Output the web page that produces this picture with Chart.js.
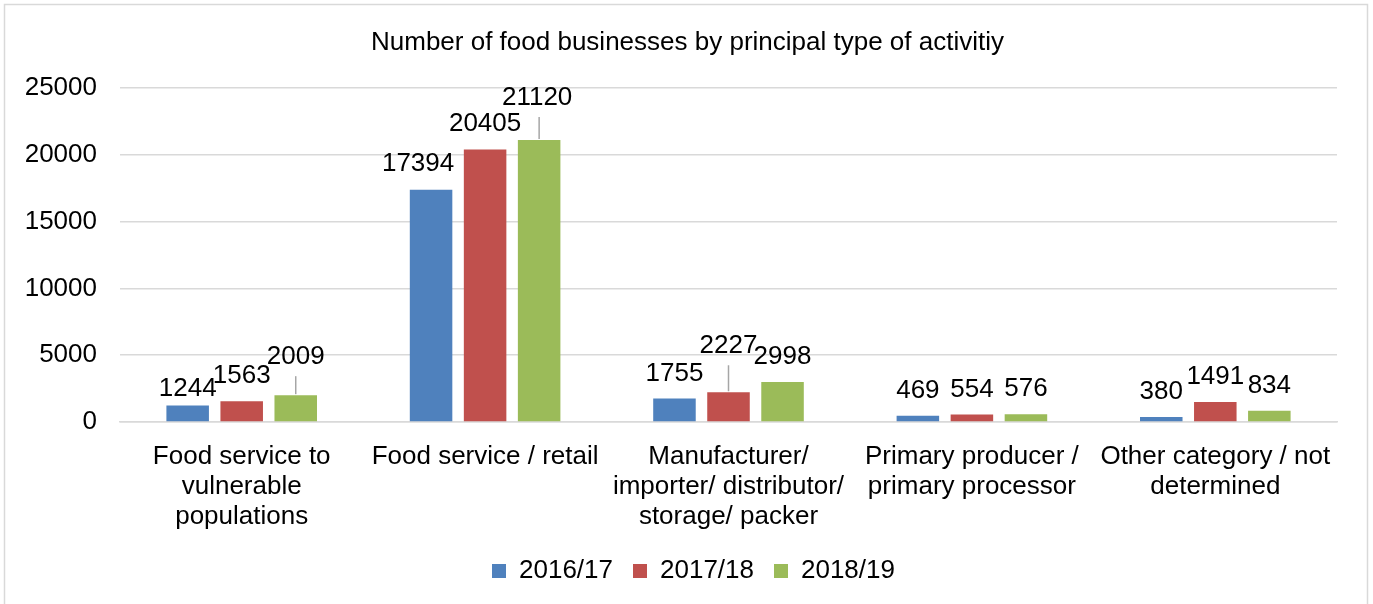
<!DOCTYPE html>
<html>
<head>
<meta charset="utf-8">
<title>Number of food businesses by principal type of activitiy</title>
<script src="https://cdn.jsdelivr.net/npm/chart.js@4/dist/chart.umd.min.js"></script>
<style>
  html, body { margin: 0; padding: 0; background: #fff; }
  canvas { display: block; }
</style>
</head>
<body>
<canvas id="foodChart" width="1373" height="604"></canvas>
<script>
// ---------------- data
const categories = [
  ['Food service to', 'vulnerable', 'populations'],
  'Food service / retail',
  ['Manufacturer/', 'importer/ distributor/', 'storage/ packer'],
  ['Primary producer /', 'primary processor'],
  ['Other category / not', 'determined']
];
const seriesNames = ['2016/17', '2017/18', '2018/19'];
const values2016 = [1244, 17394, 1755, 469, 380];
const values2017 = [1563, 20405, 2227, 554, 1491];
const values2018 = [2009, 21120, 2998, 576, 834];
const yTicks = [0, 5000, 10000, 15000, 20000, 25000];

const FONT = "'Liberation Sans', Arial, sans-serif";

// value labels above the bars, nudged like the original where they would collide
const barLabels = {
  id: 'barLabels',
  afterDatasetsDraw(chart, args, opts) {
    const ctx = chart.ctx;
    ctx.save();
    ctx.font = opts.size + 'px ' + FONT;
    ctx.textAlign = 'center';
    ctx.textBaseline = 'middle';
    chart.data.datasets.forEach((ds, d) => {
      const meta = chart.getDatasetMeta(d);
      meta.data.forEach((bar, i) => {
        const nudge = (opts.nudge[d] && opts.nudge[d][i]) || [0, opts.offset, false];
        const x = bar.x + nudge[0];
        const y = bar.y + nudge[1];
        if (nudge[2]) {
          ctx.strokeStyle = '#a6a6a6';
          ctx.lineWidth = 1.5;
          ctx.beginPath();
          ctx.moveTo(bar.x, y + 19);
          ctx.lineTo(bar.x, bar.y - 1);
          ctx.stroke();
        }
        ctx.fillStyle = '#000';
        ctx.fillText(String(ds.data[i]), x, y);
      });
    });
    ctx.restore();
  }
};

// light frame round the whole chart, and title / legend centred like the original
const frame = {
  id: 'frame',
  afterLayout(chart) {
    if (chart.titleBlock) { chart.titleBlock.left += 19; chart.titleBlock.right += 19; }
    if (chart.legend) { chart.legend.left += 25; chart.legend.right += 25; }
  },
  beforeDraw(chart) {
    const ctx = chart.ctx;
    ctx.save();
    ctx.strokeStyle = '#d9d9d9';
    ctx.lineWidth = 1.5;
    ctx.strokeRect(4.5, 4.5, 1363, 700);
    ctx.restore();
  }
};

document.addEventListener('DOMContentLoaded', function () {
  const ctx = document.getElementById('foodChart').getContext('2d');
  new Chart(ctx, {
    type: 'bar',
    data: {
      labels: categories,
      datasets: [
        { label: seriesNames[0], data: values2016, backgroundColor: '#4f81bd' },
        { label: seriesNames[1], data: values2017, backgroundColor: '#c0504d' },
        { label: seriesNames[2], data: values2018, backgroundColor: '#9bbb59' }
      ]
    },
    options: {
      responsive: false,
      animation: false,
      categoryPercentage: 0.666,
      barPercentage: 0.787,
      layout: { padding: { left: 0, right: 36, top: 0, bottom: 10 } },
      scales: {
        x: {
          grid: { display: false, drawTicks: false },
          border: { color: '#d9d9d9', width: 1.5 },
          ticks: {
            color: '#000',
            padding: 20,
            maxRotation: 0,
            autoSkip: false,
            font: { family: FONT, size: 26, lineHeight: 30 / 26 }
          },
          afterFit: axis => { axis.height = 116; }
        },
        y: {
          min: 0,
          max: 25000,
          border: { display: false },
          grid: { color: '#d9d9d9', lineWidth: 1.5, drawTicks: false },
          afterBuildTicks: axis => { axis.ticks = yTicks.map(v => ({ value: v })); },
          ticks: {
            color: '#000',
            padding: 23,
            font: { family: FONT, size: 26 },
            callback: value => String(value)
          },
          afterFit: axis => { axis.width = 120; }
        }
      },
      plugins: {
        title: {
          display: true,
          text: 'Number of food businesses by principal type of activitiy',
          color: '#000',
          font: { family: FONT, size: 26, weight: 'normal', lineHeight: 1.2 },
          padding: { top: 27, bottom: 30 }
        },
        legend: {
          position: 'bottom',
          labels: {
            color: '#000',
            boxWidth: 14,
            boxHeight: 14,
            padding: 20,
            font: { family: FONT, size: 26 }
          }
        },
        tooltip: { enabled: false },
        barLabels: {
          size: 26,
          offset: -25,
          nudge: [
            [[0, -17, false], [-13, -26, false], [0, -25, false]],
            [[0, -25, false], [0, -26, false], [0, -46, true]],
            [[0, -38, true], [-2, -42, true], [0, -25, false]]
          ]
        }
      }
    },
    plugins: [frame, barLabels]
  });
});
</script>
</body>
</html>
